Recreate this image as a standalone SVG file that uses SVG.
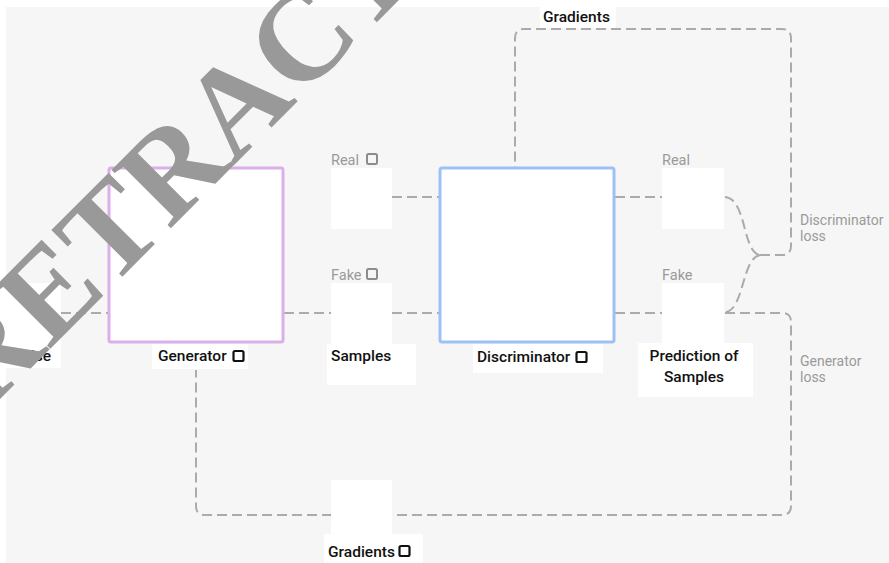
<svg xmlns="http://www.w3.org/2000/svg" width="889" height="563" viewBox="0 0 889 563">
  <style>
    .panel { fill: #f6f6f6; }
    .card { fill: #ffffff; }
    .tag { fill: #ffffff; }
    .flow { fill: none; stroke: #ababab; stroke-width: 2; stroke-dasharray: 10 5; }
    .title { font-family: Roboto, "Liberation Sans", sans-serif; font-size: 15.5px; font-weight: 500; fill: #111111; }
    .note { font-family: Roboto, "Liberation Sans", sans-serif; font-size: 14.5px; fill: #9a9a9a; }
    .side { font-family: Roboto, "Liberation Sans", sans-serif; font-size: 14px; fill: #9a9a9a; }
    .icon-dark { fill: none; stroke: #111111; stroke-width: 2.2; }
    .icon-light { fill: none; stroke: #8c8c8c; stroke-width: 2; }
    .stamp { font-family: "Liberation Serif", "DejaVu Serif", serif; font-size: 127px; font-weight: bold; fill: #999999; }
  </style>

  <!-- canvas -->
  <rect x="0" y="0" width="889" height="563" fill="#ffffff"/>
  <rect class="panel" x="6" y="7" width="883" height="556"/>

  <!-- connectors -->
  <g id="connectors">
    <line class="flow" x1="61" y1="313" x2="108" y2="313"/>
    <line class="flow" x1="284" y1="313" x2="331" y2="313"/>
    <line class="flow" x1="392" y1="197" x2="439" y2="197"/>
    <line class="flow" x1="392" y1="313" x2="439" y2="313"/>
    <line class="flow" x1="615" y1="197" x2="662" y2="197"/>
    <line class="flow" x1="615" y1="313" x2="662" y2="313"/>
    <!-- discriminator loss merge -->
    <path class="flow" d="M725,197 C747,199 742,252 760,255"/>
    <path class="flow" d="M726,312 C744,309 742,258 760,255"/>
    <!-- discriminator gradients loop -->
    <path class="flow" d="M760,255 H782 Q791,255 791,246 V38 Q791,29 782,29 H524 Q515,29 515,38 V167"/>
    <!-- generator loss loop -->
    <path class="flow" d="M725,313 H782 Q791,313 791,322 V506 Q791,515 782,515 H205 Q196,515 196,506 V370"/>
  </g>

  <!-- noise input -->
  <g id="noise">
    <rect class="card" x="6" y="283" width="55" height="85"/>
    <text class="title" x="51" y="361" text-anchor="end">Noise</text>
  </g>

  <!-- generator -->
  <g id="generator">
    <rect x="109" y="168" width="174" height="174" rx="2" fill="#ffffff" stroke="#dcaeea" stroke-width="3"/>
    <rect class="tag" x="152" y="344" width="96" height="25"/>
    <text class="title" x="158" y="361">Generator</text>
    <rect class="icon-dark" x="233.5" y="351" width="10" height="10" rx="1.5"/>
  </g>

  <!-- real sample -->
  <g id="real-sample">
    <text class="note" x="331" y="164.5">Real</text>
    <rect class="icon-light" x="367" y="154" width="10" height="10" rx="1.5"/>
    <rect class="card" x="331" y="168" width="61" height="61" rx="1"/>
  </g>

  <!-- fake sample -->
  <g id="fake-sample">
    <text class="note" x="331" y="280">Fake</text>
    <rect class="icon-light" x="367" y="269" width="10" height="10" rx="1.5"/>
    <rect class="card" x="331" y="283" width="61" height="62" rx="1"/>
    <rect class="tag" x="327" y="344" width="89" height="41"/>
    <text class="title" x="331" y="361">Samples</text>
  </g>

  <!-- discriminator -->
  <g id="discriminator">
    <rect x="440" y="168" width="174" height="174" rx="2" fill="#ffffff" stroke="#9ec0f5" stroke-width="3"/>
    <rect class="tag" x="473" y="344" width="130" height="29"/>
    <text class="title" x="477" y="362">Discriminator</text>
    <rect class="icon-dark" x="576.5" y="352" width="10" height="10" rx="1.5"/>
  </g>

  <!-- predictions -->
  <g id="prediction-real">
    <text class="note" x="662" y="164.5">Real</text>
    <rect class="card" x="662" y="168" width="62" height="61" rx="1"/>
  </g>
  <g id="prediction-fake">
    <text class="note" x="662" y="280">Fake</text>
    <rect class="card" x="662" y="283" width="62" height="62" rx="1"/>
    <rect class="tag" x="638" y="343" width="115" height="54"/>
    <text class="title" x="694" y="361" text-anchor="middle">Prediction of</text>
    <text class="title" x="694" y="382" text-anchor="middle">Samples</text>
  </g>

  <!-- loss labels -->
  <g id="discriminator-loss">
    <text class="side" x="800" y="225">Discriminator</text>
    <text class="side" x="800" y="241">loss</text>
  </g>
  <g id="generator-loss">
    <text class="side" x="800" y="366">Generator</text>
    <text class="side" x="800" y="382">loss</text>
  </g>

  <!-- gradient labels -->
  <g id="discriminator-gradients">
    <rect class="tag" x="540" y="7" width="76" height="21"/>
    <text class="title" x="543" y="22">Gradients</text>
  </g>
  <g id="generator-gradients">
    <rect class="card" x="331" y="480" width="61" height="55" rx="1"/>
    <rect class="tag" x="324" y="534" width="99" height="29"/>
    <text class="title" x="328" y="557" textLength="67" lengthAdjust="spacingAndGlyphs">Gradients</text>
    <rect class="icon-dark" x="399.5" y="546" width="10" height="10" rx="1.5"/>
  </g>

  <!-- overlay stamp -->
  <text class="stamp" x="-16" y="415" transform="rotate(-45 -16 415)">RETRACTED</text>
</svg>
